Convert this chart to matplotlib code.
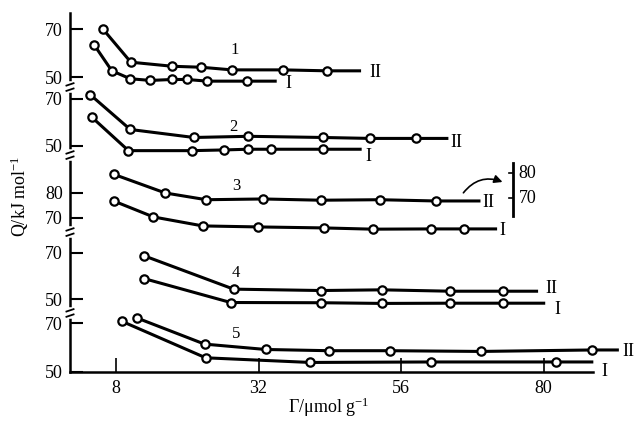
import matplotlib
matplotlib.use("Agg")
import matplotlib.pyplot as plt
import numpy as np

plt.rcParams['font.family'] = ['Liberation Serif', 'DejaVu Serif']
plt.rcParams['mathtext.fontset'] = 'custom'
plt.rcParams['mathtext.rm'] = 'Liberation Serif'
plt.rcParams['mathtext.it'] = 'Liberation Serif:italic'

# datos (x en umol/g, Q en kJ/mol)
x1_II = [5.8, 10.5, 17.5, 22.3, 27.5, 36.1, 43.6]
q1_II = [70.0, 56.2, 54.5, 54.1, 53.0, 53.0, 52.6]
x1_I = [4.3, 7.3, 10.4, 13.8, 17.5, 19.9, 23.4, 30.1]
q1_I = [63.5, 52.6, 49.3, 48.6, 49.0, 49.0, 48.3, 48.3]

x2_II = [3.7, 10.4, 21.1, 30.3, 42.9, 50.8, 58.5]
q2_II = [71.7, 57.0, 53.6, 54.1, 53.6, 53.2, 53.2]
x2_I = [3.9, 10.1, 20.8, 26.2, 30.2, 34.1, 42.8]
q2_I = [62.3, 48.0, 48.0, 48.3, 48.6, 48.6, 48.6]

x3_II = [7.6, 16.3, 23.2, 32.8, 42.5, 52.4, 61.8]
q3_II = [87.5, 80.0, 77.3, 77.6, 77.1, 77.3, 76.8]
x3_I = [7.6, 14.3, 22.6, 31.9, 43.0, 51.2, 61.0, 66.6]
q3_I = [76.8, 70.4, 66.8, 66.4, 66.0, 65.5, 65.6, 65.6]

x4_II = [12.7, 27.8, 42.5, 52.8, 64.3, 73.2]
q4_II = [68.8, 54.3, 53.7, 54.0, 53.4, 53.4]
x4_I = [12.7, 27.3, 42.5, 52.8, 64.3, 73.2]
q4_I = [58.9, 48.5, 48.4, 48.1, 48.2, 48.2]

x5_II = [11.5, 22.9, 33.2, 43.8, 54.1, 69.4, 88.1]
q5_II = [72.1, 61.4, 59.2, 58.7, 58.7, 58.4, 59.0]
x5_I = [9.0, 23.1, 40.7, 61.0, 82.0]
q5_I = [70.7, 55.8, 53.9, 54.1, 54.1]

# donde termina cada linea (II, I)
fin_x = [[49.0, 34.8], [63.7, 49.1], [69.1, 71.9], [78.8, 80.0], [92.4, 88.1]]

x_ticks = [8, 32, 56, 80]
panel_ticks = [[50, 70], [50, 70], [70, 80], [50, 70], [50, 70]]
nombres = ['1', '2', '3', '4', '5']

# escala del eje cortado: valor base, posicion, factor
panel_q0 = [50, 50, 70, 50, 50]
panel_pos = [122.9, 94.2, 64.2, 30.4, 0.0]
panel_k = [1.0, 0.98, 1.04, 0.96, 1.02]
cortes = [118.75, 90.4, 58.3, 24.6]
# posicion de los numeros de serie (x, Q)
etiq_x = [28.0, 27.7, 28.2, 28.2, 28.3]
etiq_q = [61.2, 58.2, 82.6, 61.25, 65.4]
# desplazamiento de las etiquetas II / I (pixeles)
lab_dx = [[10, 10], [4, 5], [3, 4], [9, 11], [5, 10]]
lab_dy = [[2, 2], [4, 7], [2, 2], [-3, 6], [2, 10]]

# eje pequeño de la serie 3
ins_x = 74.8
ins_q0, ins_pos = 70, 72.5
ins_ticks = [80, 70]


def a_y(p, q):
    return panel_pos[p] + (np.asarray(q, float) - panel_q0[p]) * panel_k[p]


curvas = [((x1_II, q1_II), (x1_I, q1_I)),
          ((x2_II, q2_II), (x2_I, q2_I)),
          ((x3_II, q3_II), (x3_I, q3_I)),
          ((x4_II, q4_II), (x4_I, q4_I)),
          ((x5_II, q5_II), (x5_I, q5_I))]

fig = plt.figure(figsize=(6.37, 4.24), dpi=100)
ax = fig.add_axes([70 / 637, 52 / 424, 560 / 637, 359 / 424])
ax.set_xlim(0.256, 94.53)
ax.set_ylim(0, 149.6)

for p, par in enumerate(curvas):
    for j, (xs, qs) in enumerate(par):
        xx = list(xs) + [fin_x[p][j]]
        yy = list(a_y(p, qs)) + [a_y(p, qs[-1])]
        ax.plot(xx, yy, '-', color='k', lw=2.2, clip_on=False, zorder=3)
        ax.plot(xs, a_y(p, qs), 'o', ms=6, mfc='white', mec='k', mew=1.6,
                clip_on=False, zorder=4)
        ax.annotate(['II', 'I'][j], (fin_x[p][j], yy[-1]),
                    xytext=(lab_dx[p][j] * 0.72, -lab_dy[p][j] * 0.72),
                    textcoords='offset points', ha='left', va='center',
                    fontsize=13)
    ax.text(etiq_x[p], a_y(p, etiq_q[p]), nombres[p], ha='center',
            va='center', fontsize=12)

# ticks del eje y
yt, yl = [], []
for p, tk in enumerate(panel_ticks):
    for t in tk:
        yt.append(float(a_y(p, t)))
        yl.append(str(t))
ax.set_yticks(yt)
ax.set_yticklabels(yl)
ax.set_xticks(x_ticks)
ax.tick_params(axis='x', direction='in', length=10, width=1.2, labelsize=13, pad=6)
ax.tick_params(axis='y', direction='in', length=9, width=1.5, labelsize=13, pad=5)

for s in ['top', 'right']:
    ax.spines[s].set_visible(False)
ax.spines['left'].set_linewidth(1.8)
ax.spines['bottom'].set_linewidth(1.8)
ax.spines['bottom'].set_bounds(0.256, 88.3)

# marcas de corte en el eje y
x0 = ax.get_xlim()[0]
for c in cortes:
    ax.plot([x0, x0], [c - 1.3, c + 1.3], color='white', lw=4, clip_on=False, zorder=5)
    for d in (-1.1, 1.1):
        ax.plot([x0 - 0.6, x0 + 0.6], [c + d - 0.5, c + d + 0.5], color='k',
                lw=1.3, clip_on=False, zorder=6)

# eje auxiliar a la derecha (serie 3)
ky = panel_k[2]
ax.plot([ins_x, ins_x], [ins_pos - 7.5, ins_pos + 14.6], color='k', lw=2, clip_on=False)
for t in ins_ticks:
    yv = ins_pos + (t - ins_q0) * ky
    ax.plot([ins_x - 0.7, ins_x], [yv, yv], color='k', lw=1.2, clip_on=False)
    ax.text(ins_x + 1.0, yv, str(t), ha='left', va='center', fontsize=13)
ax.annotate('', xy=(73.5, 78.75), xytext=(66.2, 73.75),
            arrowprops=dict(arrowstyle='-|>', connectionstyle='arc3,rad=-0.4',
                            lw=1.2, color='k', mutation_scale=12))

ax.set_ylabel('Q/kJ mol$^{-1}$', fontsize=13)
ax.yaxis.set_label_coords(-0.07, 0.49)
ax.set_xlabel('Γ/μmol g$^{-1}$', fontsize=13)
ax.xaxis.set_label_coords(0.4625, -0.067)

fig.savefig('out.png', dpi=100)
